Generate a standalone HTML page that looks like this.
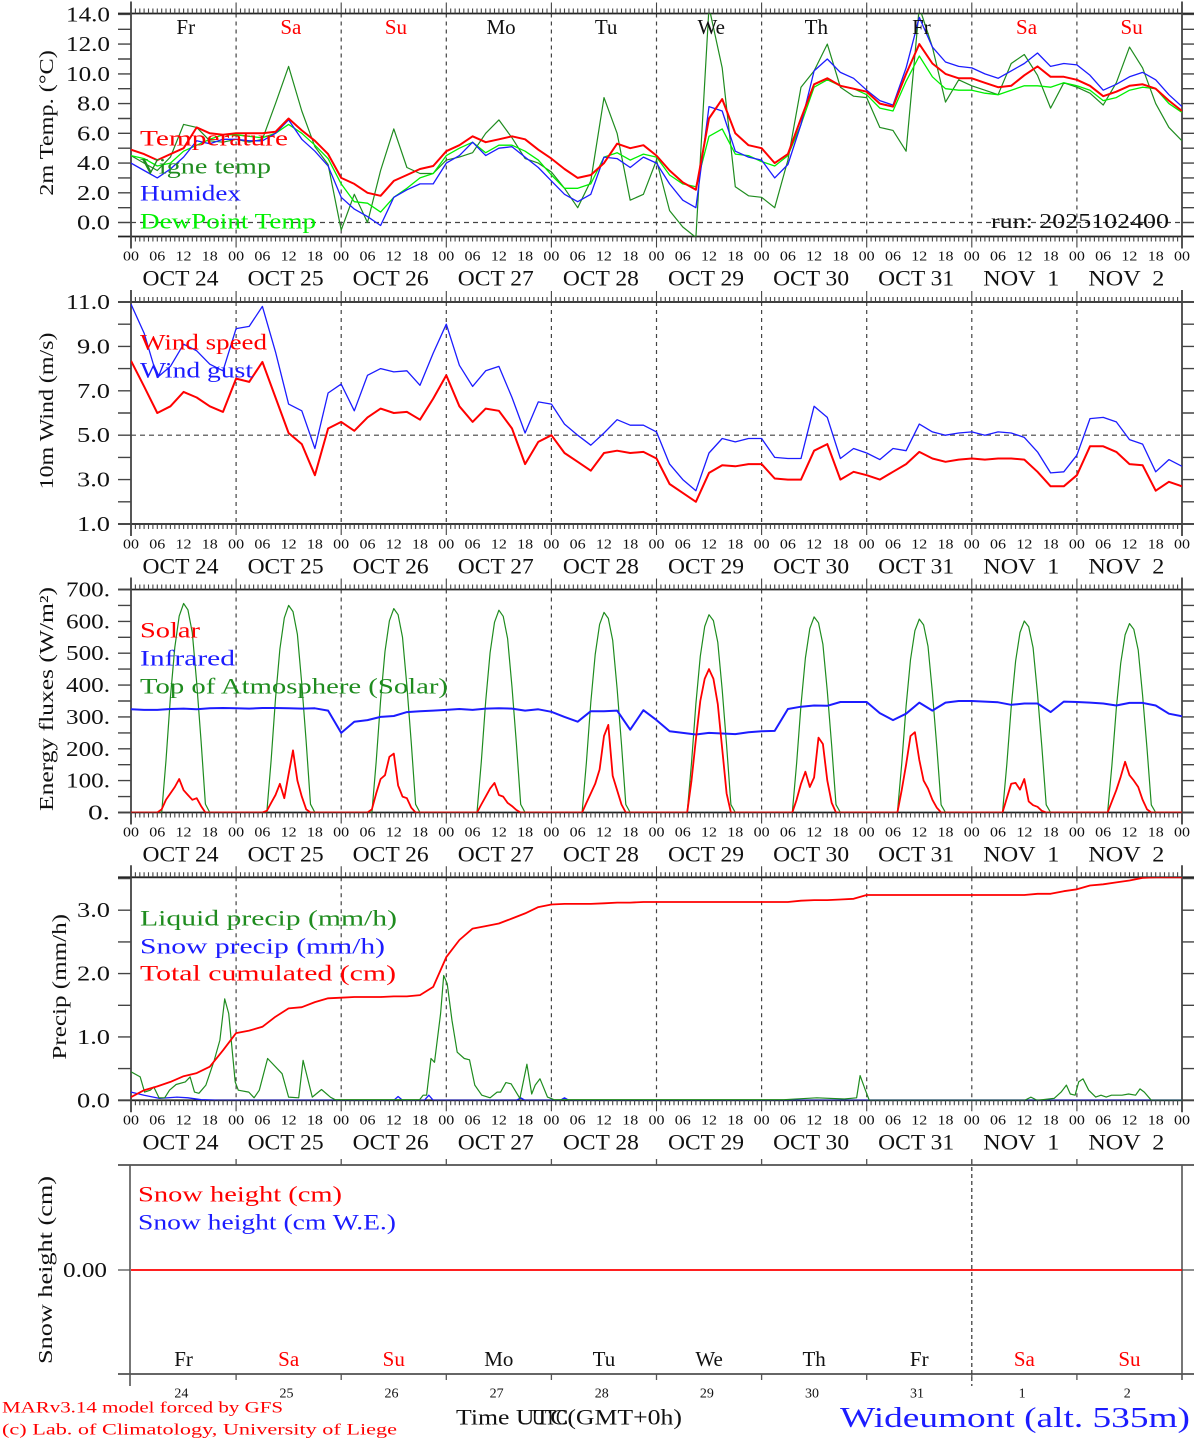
<!DOCTYPE html>
<html><head><meta charset="utf-8">
<style>
html,body{margin:0;padding:0;background:#fff;}
svg{display:block;font-family:"Liberation Serif","DejaVu Serif",serif;}
</style></head>
<body>
<svg id="chart" width="1194" height="1440" viewBox="0 0 1194 1440" xmlns="http://www.w3.org/2000/svg"></svg>
<script>
// ---------- DATA (3-hourly unless noted) ----------
const dayNames = ["Fr","Sa","Su","Mo","Tu","We","Th","Fr","Sa","Su"];
const dateLabels = ["OCT 24","OCT 25","OCT 26","OCT 27","OCT 28","OCT 29","OCT 30","OCT 31","NOV  1","NOV  2"];
const dayNums = ["24","25","26","27","28","29","30","31","1","2"];
const hourLabels = ["00","06","12","18"];
const tempTicks = ["0.0","2.0","4.0","6.0","8.0","10.0","12.0","14.0"];
const windTicks = ["1.0","3.0","5.0","7.0","9.0","11.0"];
const energyTicks = ["0.","100.","200.","300.","400.","500.","600.","700."];
const precipTicks = ["0.0","1.0","2.0","3.0"];

const temperature = [4.9,4.6,4.2,4.6,5.0,6.4,6.0,5.9, 6.0,6.0,6.0,6.1,7.0,6.2,5.5,4.6, 3.0,2.6,2.0,1.8,2.8,3.2,3.6,3.8, 4.8,5.2,5.8,5.4,5.6,5.8,5.6,4.9, 4.3,3.6,3.0,3.2,4.0,5.3,5.0,5.2, 4.5,3.5,2.7,2.2,7.0,8.3,6.0,5.2, 5.0,4.0,4.6,7.0,9.3,9.7,9.2,9.0, 8.8,8.0,7.8,10.0,12.0,10.7,10.0,9.7, 9.7,9.4,9.1,9.2,9.9,10.5,9.8,9.8, 9.6,9.2,8.5,8.8,9.2,9.3,9.0,8.2,7.5];
const vigneTemp = [4.5,4.0,3.5,4.4,6.6,6.4,5.5,5.4, 5.6,5.4,5.6,8.0,10.5,7.5,5.1,3.9, -0.5,1.9,0.0,3.5,6.3,3.7,3.3,3.3, 4.2,4.4,4.7,6.0,6.9,5.7,4.3,4.0, 3.4,2.3,1.0,2.8,8.4,6.0,1.5,1.9, 4.2,0.8,-0.3,-1.0,14.5,10.4,2.4,1.8, 1.7,1.0,4.2,9.1,10.2,12.0,9.1,8.5, 8.4,6.4,6.2,4.8,14.5,11.8,8.1,9.6, 9.2,8.9,8.6,10.7,11.3,9.9,7.7,9.4, 9.1,8.7,7.9,9.4,11.8,10.4,8.0,6.4,5.5];
const humidex = [4.0,3.5,3.0,3.6,4.4,5.5,5.3,5.6, 5.6,5.5,5.5,6.0,6.9,5.6,4.8,3.8, 1.7,0.9,0.4,-0.2,1.7,2.2,2.6,2.6, 4.0,4.5,5.4,4.5,5.0,5.1,4.4,3.7, 2.8,1.9,1.4,1.9,4.4,4.3,3.7,4.4, 4.0,2.6,1.5,1.0,7.8,7.5,4.8,4.4, 4.2,3.0,3.9,6.6,10.2,11.0,10.1,9.7, 8.9,8.2,7.9,10.4,13.8,11.8,10.8,10.5, 10.4,10.0,9.7,10.2,10.7,11.4,10.5,10.7, 10.6,9.9,8.9,9.3,9.8,10.1,9.6,8.6,7.8];
const dewPoint = [4.5,4.3,3.8,4.0,4.8,5.2,5.6,5.9, 5.9,5.8,5.7,6.0,6.6,6.0,5.2,4.3, 2.6,1.4,1.3,0.7,1.7,2.3,3.0,3.3, 4.5,5.0,5.4,4.7,5.2,5.2,4.8,4.2, 3.2,2.3,2.3,2.6,4.4,4.7,4.2,4.6, 4.4,3.2,2.6,2.4,5.8,6.3,4.6,4.5, 4.1,3.8,4.5,6.6,9.1,9.6,9.2,9.0, 8.6,7.7,7.5,9.5,11.2,9.8,9.0,8.9, 8.9,8.7,8.6,8.9,9.2,9.2,9.1,9.4, 9.2,8.9,8.2,8.4,8.9,9.1,9.0,8.0,7.4];

const windSpeed = [8.35,7.2,6.0,6.3,6.95,6.7,6.3,6.05, 7.55,7.4,8.3,6.7,5.1,4.6,3.2,5.3, 5.6,5.2,5.8,6.2,6.0,6.05,5.7,6.65, 7.7,6.3,5.6,6.2,6.1,5.3,3.7,4.7, 5.0,4.2,3.8,3.4,4.2,4.3,4.2,4.25, 3.95,2.8,2.4,2.0,3.3,3.65,3.6,3.7, 3.7,3.05,3.0,3.0,4.3,4.6,3.0,3.35, 3.2,3.0,3.35,3.7,4.25,3.95,3.8,3.9, 3.95,3.9,3.95,3.95,3.9,3.35,2.7,2.7, 3.2,4.5,4.5,4.25,3.7,3.65,2.5,2.9,2.7];
const windGust = [10.9,9.6,7.6,8.1,9.1,8.8,8.2,7.9, 9.8,9.9,10.8,8.75,6.4,6.1,4.4,6.9, 7.3,6.1,7.7,8.0,7.85,7.9,7.25,8.7, 10.0,8.15,7.2,7.9,8.1,6.7,5.1,6.5, 6.4,5.5,5.0,4.55,5.1,5.7,5.45,5.45, 5.15,3.7,3.0,2.5,4.2,4.85,4.7,4.85, 4.85,4.0,3.95,3.95,6.3,5.8,3.95,4.4, 4.2,3.9,4.4,4.3,5.5,5.15,5.0,5.1, 5.15,5.0,5.15,5.1,4.9,4.25,3.3,3.35, 4.1,5.75,5.8,5.6,4.8,4.6,3.35,3.9,3.6];

const infrared = [324,322,322,325,326,324,327,328, 327,326,328,328,327,326,327,320, 250,285,290,300,303,315,318,320, 322,325,322,326,327,326,320,324, 316,300,285,318,318,320,260,321, 290,255,250,245,250,248,246,252, 255,256,325,332,336,335,347,347, 347,312,290,310,345,320,345,350, 350,348,346,338,342,342,315,348, 347,345,342,336,344,344,336,310,302];
// hourly solar (hours 7..17 of each day)
const solarByDay = [
 [10,40,60,80,105,70,55,40,45,20,0],
 [5,30,55,90,45,120,195,100,50,10,0],
 [10,60,105,117,175,185,85,50,45,15,0],
 [0,25,50,75,93,55,50,30,20,8,0],
 [0,30,60,90,135,240,275,115,70,25,0],
 [0,100,230,350,420,450,420,340,200,60,0],
 [0,40,90,128,80,110,235,215,100,30,0],
 [0,70,150,240,252,165,100,75,40,15,0],
 [0,45,90,93,72,105,35,23,18,5,0],
 [0,35,70,112,159,117,100,80,40,10,0]];
const toaPeak = [656,650,640,635,628,621,614,607,601,593];
const toaProfile = [0.0,0.25,0.55,0.79,0.94,1.0,0.97,0.86,0.62,0.34,0.04]; // hours 7..17

const cumulPrecip = [0.05,0.16,0.22,0.29,0.38,0.43,0.53,0.79, 1.06,1.10,1.16,1.32,1.45,1.47,1.55,1.61, 1.62,1.63,1.63,1.63,1.64,1.64,1.66,1.79, 2.26,2.53,2.71,2.75,2.79,2.87,2.95,3.05, 3.09,3.10,3.10,3.10,3.11,3.12,3.12,3.13, 3.13,3.13,3.13,3.13,3.13,3.13,3.13,3.13, 3.13,3.13,3.13,3.15,3.16,3.16,3.17,3.18, 3.24,3.24,3.24,3.24,3.24,3.24,3.24,3.24, 3.24,3.24,3.24,3.24,3.24,3.26,3.26,3.30, 3.33,3.39,3.41,3.44,3.47,3.51,3.52,3.52,3.52];
const liquidHours = [0,2.1,3.1,4.4,5.2,6.4,7.7,8.8,10.3,12.4,13.5,14.5,15.5,17.1,19,20.3,21.4,22.3,23.8,24.5,26.9,28.1,29.3,31.2,34.5,36,38.3,39.3,41.4,43.5,45.5,46.6,65.9,66.7,67.5,68.5,69.3,70.7,71.4,72.2,73.3,74.5,76.1,77.3,78.5,80.1,82,83.6,84.4,85.6,86.8,88.8,90.4,91.5,92.3,93.4,95.1,96.6,149.1,156.6,162.9,165.7,166.5,167.7,168.6,204.1,205.5,206.9,210.8,212.4,213.6,214.5,215.6,216.4,217.4,218.7,220.3,221.5,222.7,223.9,226.3,227.8,229.4,230.4,231.4,233,240];
const liquidVals = [0.45,0.37,0.13,0.16,0.21,0.04,0.04,0.16,0.25,0.29,0.37,0.13,0.11,0.24,0.63,0.95,1.6,1.37,0.29,0.16,0.13,0.04,0.16,0.66,0.42,0.05,0.04,0.63,0.05,0.17,0.05,0.01,0.01,0.08,0.08,0.66,0.6,1.37,1.97,1.84,1.26,0.76,0.66,0.64,0.24,0.08,0.04,0.13,0.13,0.28,0.26,0.03,0.57,0.1,0.24,0.34,0.05,0.01,0.01,0.04,0.02,0.04,0.39,0.16,0,0,0.05,0,0.03,0.13,0.24,0.1,0.08,0.29,0.34,0.16,0.05,0.08,0.05,0.08,0.08,0.1,0.08,0.18,0.13,0,0];
const snowHours = [0,3,6.5,10.5,13,16,20,60,61,62,67,68,69,88,89,90,98,99,100,240];
const snowVals = [0.13,0.08,0.03,0.05,0.04,0.01,0,0,0.06,0,0,0.08,0,0,0.04,0,0,0.04,0,0];
const snowHeight = [0,0,0,0,0,0,0,0,0,0,0];

// ---------- LAYOUT ----------
const NS="http://www.w3.org/2000/svg";
const svg=document.getElementById('chart');
const X0=131, X1=1182;
const xs=h=>X0+h*(X1-X0)/240;
function el(tag,attrs,parent){const e=document.createElementNS(NS,tag);for(const k in attrs)e.setAttribute(k,attrs[k]);(parent||svg).appendChild(e);return e;}
function txt(s,x,y,size,fill,anchor,parent){const t=el('text',{x:x,y:y,'font-size':size,fill:fill,'text-anchor':anchor||'start','dominant-baseline':'central'},parent);t.textContent=s;return t;}
const RED="#ff0000",BLUE="#1c1cff",DGREEN="#1f8c1f",LIME="#00f000";

const panels=[
 {id:'temp',top:13.5,bot:236.5,vmin:-0.94,vmax:14.06,minor:1,tickVals:[0,2,4,6,8,10,12,14],tickLabels:tempTicks,ref:0,title:"2m Temp. (\u00B0C)",titleX:47,hourY:257,dateY:278},
 {id:'wind',top:302,bot:524,vmin:1,vmax:11,minor:1,tickVals:[1,3,5,7,9,11],tickLabels:windTicks,ref:5,title:"10m Wind (m/s)",titleX:47,hourY:545,dateY:566},
 {id:'energy',top:589.5,bot:812.5,vmin:0,vmax:700,minor:50,tickVals:[0,100,200,300,400,500,600,700],tickLabels:energyTicks,ref:null,title:"Energy fluxes (W/m\u00B2)",titleX:47,hourY:833,dateY:854},
 {id:'precip',top:877.3,bot:1100.3,vmin:0,vmax:3.52,minor:0.5,tickVals:[0,1,2,3],tickLabels:precipTicks,ref:null,title:"Precip (mm/h)",titleX:60,hourY:1121,dateY:1142}
];
panels.forEach(p=>{p.ys=v=>p.bot-(v-p.vmin)*(p.bot-p.top)/(p.vmax-p.vmin);});

function drawPanel(p){
 const g=el('g',{});
 
 
 for(let d=1;d<10;d++){const l=el('line',{x1:xs(d*24),x2:xs(d*24),y1:p.top,y2:p.bot,stroke:'#444','stroke-width':1.2,'stroke-dasharray':'4,4'},g);
  
  }
 if(p.ref!==null){const l=el('line',{x1:X0,x2:X1,y1:p.ys(p.ref),y2:p.ys(p.ref),stroke:'#444','stroke-width':1.2,'stroke-dasharray':'5,4'},g);
  
  }
 el('line',{x1:118,x2:1194,y1:p.top,y2:p.top,stroke:'#222','stroke-width':1.8},g);
 el('line',{x1:118,x2:1194,y1:p.bot,y2:p.bot,stroke:'#222','stroke-width':1.8},g);
 el('line',{x1:X0,x2:X0,y1:p.top-12,y2:p.bot+12,stroke:'#444','stroke-width':1.8},g);
 el('line',{x1:X1,x2:X1,y1:p.top-12,y2:p.bot+12,stroke:'#444','stroke-width':1.8},g);
 let d='';
 for(let h=0;h<=240;h++){const x=xs(h).toFixed(1);const L=(h%24===0)?11:5;d+=`M${x} ${p.top}v-${L}M${x} ${p.bot}v${L}`;}
 el('path',{d:d,stroke:'#444','stroke-width':1.1,fill:'none'},g);
 let d2='';
 for(let v=p.vmin<0?0:p.vmin;v<=p.vmax+1e-6;v+=p.minor){const y=p.ys(v).toFixed(1);d2+=`M118 ${y}H${X0}M${X1} ${y}H1194`;}
 el('path',{d:d2,stroke:'#444','stroke-width':1.4,fill:'none'},g);
 p.tickVals.forEach((v,i)=>{const t=txt(p.tickLabels[i],110,p.ys(v),21,'#111','end',g);
  t.setAttribute('textLength',p.tickLabels[i].length*11);t.setAttribute('lengthAdjust','spacingAndGlyphs');
  
  });
 const tt=el('text',{x:0,y:0,'font-size':20,fill:'#111','text-anchor':'middle','dominant-baseline':'central',transform:`translate(${p.titleX},${(p.top+p.bot)/2-2}) rotate(-90)`},g);
 tt.textContent=p.title;
 tt.setAttribute('textLength',p.title.length*11.2);tt.setAttribute('lengthAdjust','spacingAndGlyphs');
 
 
 for(let day=0;day<=10;day++){
  for(let k=0;k<4;k++){ if(day===10&&k>0)break;
   const t=txt(hourLabels[k],xs(day*24+k*6),p.hourY,14,'#111','middle',g);
   t.setAttribute('textLength',16);t.setAttribute('lengthAdjust','spacingAndGlyphs');
   
   }
  if(day<10){const t=txt(dateLabels[day],xs(day*24+11.3),p.dateY,22,'#111','middle',g);
   t.style.whiteSpace='pre';
   t.setAttribute('textLength',76);t.setAttribute('lengthAdjust','spacingAndGlyphs');
   
   }
 }
 return g;
}
panels.forEach(drawPanel);

function clip(p){const id='clip-'+p.id;const c=el('clipPath',{id:id});el('rect',{x:X0,y:p.top,width:X1-X0,height:p.bot-p.top},c);return `url(#${id})`;}
function line3h(p,vals,color,w,name){
 const pts=vals.map((v,i)=>xs(i*3).toFixed(1)+','+p.ys(v).toFixed(1)).join(' ');
 const l=el('polyline',{points:pts,fill:'none',stroke:color,'stroke-width':w,'stroke-linejoin':'round','clip-path':p.clipUrl});
 
 
}
function lineXY(p,hours,vals,color,w,name){
 const pts=vals.map((v,i)=>xs(hours[i]).toFixed(1)+','+p.ys(v).toFixed(1)).join(' ');
 const l=el('polyline',{points:pts,fill:'none',stroke:color,'stroke-width':w,'stroke-linejoin':'round','clip-path':p.clipUrl});
 
 
}
panels.forEach(p=>p.clipUrl=clip(p));
const [P1,P2,P3,P4]=panels;

line3h(P1,vigneTemp,DGREEN,1.2,'vigne-temp-line');
line3h(P1,dewPoint,LIME,1.3,'dewpoint-line');
line3h(P1,humidex,BLUE,1.3,'humidex-line');
line3h(P1,temperature,RED,2,'temperature-line');
dayNames.forEach((n,i)=>{const t=txt(n,xs(i*24+12.5),27,21,(n==='Sa'||n==='Su')?RED:'#111','middle');
 
 });
function legend(s,x,y,color,len){const t=txt(s,x,y,22,color,'start');t.setAttribute('textLength',len);t.setAttribute('lengthAdjust','spacingAndGlyphs');
 
 return t;}
legend("Temperature",140,138,RED,148);
legend("Vigne temp",140,166,DGREEN,131);
legend("Humidex",140,193,BLUE,101);
legend("DewPoint Temp",140,221,LIME,176);
{const t=txt("run: 2025102400",1169,221,21,'#111','end');t.setAttribute('textLength',178);t.setAttribute('lengthAdjust','spacingAndGlyphs');
 
 }

line3h(P2,windGust,BLUE,1.3,'wind-gust-line');
line3h(P2,windSpeed,RED,2,'wind-speed-line');
legend("Wind speed",140,342,RED,127);
legend("Wind gust",140,370,BLUE,113);

const solarHours=[],solarVals=[],toaVals=[];
for(let d=0;d<10;d++){for(let h=0;h<24;h++){solarHours.push(d*24+h);
 const k=h-7; solarVals.push(k>=0&&k<11?solarByDay[d][k]:0); toaVals.push(k>=0&&k<11?toaPeak[d]*toaProfile[k]:0);}}
solarHours.push(240);solarVals.push(0);toaVals.push(0);
lineXY(P3,solarHours,toaVals,DGREEN,1.2,'toa-solar-line');
line3h(P3,infrared,BLUE,2,'infrared-line');
lineXY(P3,solarHours,solarVals,RED,1.8,'solar-line');
legend("Solar",140,630,RED,60);
legend("Infrared",140,658,BLUE,95);
legend("Top of Atmosphere (Solar)",140,686,DGREEN,308);

lineXY(P4,snowHours,snowVals,BLUE,1.3,'snow-precip-line');
lineXY(P4,liquidHours,liquidVals,DGREEN,1.2,'liquid-precip-line');
line3h(P4,cumulPrecip,RED,1.8,'cumulated-precip-line');
legend("Liquid precip (mm/h)",140,918,DGREEN,257);
legend("Snow precip (mm/h)",140,946,BLUE,245);
legend("Total cumulated (cm)",140,973,RED,256);

{
 const top=1165,bot=1374,y0=1270;
 const g=el('g',{});
 
 
 el('line',{x1:118,x2:1194,y1:top,y2:top,stroke:'#333','stroke-width':1.4},g);
 el('line',{x1:118,x2:1194,y1:bot,y2:bot,stroke:'#333','stroke-width':1.4},g);
 el('line',{x1:130,x2:130,y1:top,y2:bot+12,stroke:'#555','stroke-width':1.6},g);
 el('line',{x1:X1,x2:X1,y1:top,y2:bot+6,stroke:'#555','stroke-width':1.6},g);
 el('line',{x1:xs(192),x2:xs(192),y1:top-5,y2:bot+12,stroke:'#333','stroke-width':1.2,'stroke-dasharray':'4,3'},g);
 let d='';for(let k=1;k<10;k++){const x=xs(k*24).toFixed(1);d+=`M${x} ${top}v-6M${x} ${bot}v6`;}
 el('path',{d:d,stroke:'#555','stroke-width':1.3},g);
 el('line',{x1:118,x2:130,y1:y0,y2:y0,stroke:'#555','stroke-width':1.3},g);
 el('line',{x1:X1,x2:1194,y1:y0,y2:y0,stroke:'#555','stroke-width':1.3},g);
 const pts=snowHeight.map((v,i)=>xs(i*24).toFixed(1)+','+(y0-v*50).toFixed(1)).join(' ');
 const l=el('polyline',{points:pts,fill:'none',stroke:RED,'stroke-width':1.8},g);
 
 
 const t0=txt("0.00",107,y0,21,'#111','end',g);
 t0.setAttribute('textLength',44);t0.setAttribute('lengthAdjust','spacingAndGlyphs');
 
 
 const tt=el('text',{x:0,y:0,'font-size':20,fill:'#111','text-anchor':'middle','dominant-baseline':'central',transform:'translate(46,1270) rotate(-90)'},g);
 tt.textContent="Snow height (cm)";
 tt.setAttribute('textLength',188);tt.setAttribute('lengthAdjust','spacingAndGlyphs');
 
 
 legend("Snow height (cm)",138,1194,RED,204);
 legend("Snow height (cm W.E.)",138,1222,BLUE,258);
 dayNames.forEach((n,i)=>{const t=txt(n,xs(i*24+12),1359,21,(n==='Sa'||n==='Su')?RED:'#111','middle',g);
  
  
  const t2=txt(dayNums[i],xs(i*24+11.5),1394,14,'#111','middle',g);
  
  });
}

{const t=txt("MARv3.14 model forced by GFS",2,1408,16,RED,'start');t.setAttribute('textLength',281);t.setAttribute('lengthAdjust','spacingAndGlyphs');
 
 }
{const t=txt("(c) Lab. of Climatology, University of Liege",2,1430,16,RED,'start');t.setAttribute('textLength',395);t.setAttribute('lengthAdjust','spacingAndGlyphs');
 
 }
{const t=txt("Time UTC(GMT+0h)",456,1417,22,'#111','start');t.setAttribute('textLength',226);t.setAttribute('lengthAdjust','spacingAndGlyphs');
 
 
 const t2=txt("UTC",532,1417,22,'#111','start');t2.setAttribute('textLength',36);t2.setAttribute('lengthAdjust','spacingAndGlyphs');
 
 }
{const t=txt("Wideumont (alt. 535m)",1190,1418,29,BLUE,'end');t.setAttribute('textLength',350);t.setAttribute('lengthAdjust','spacingAndGlyphs');
 
 }
</script>
</body></html>
